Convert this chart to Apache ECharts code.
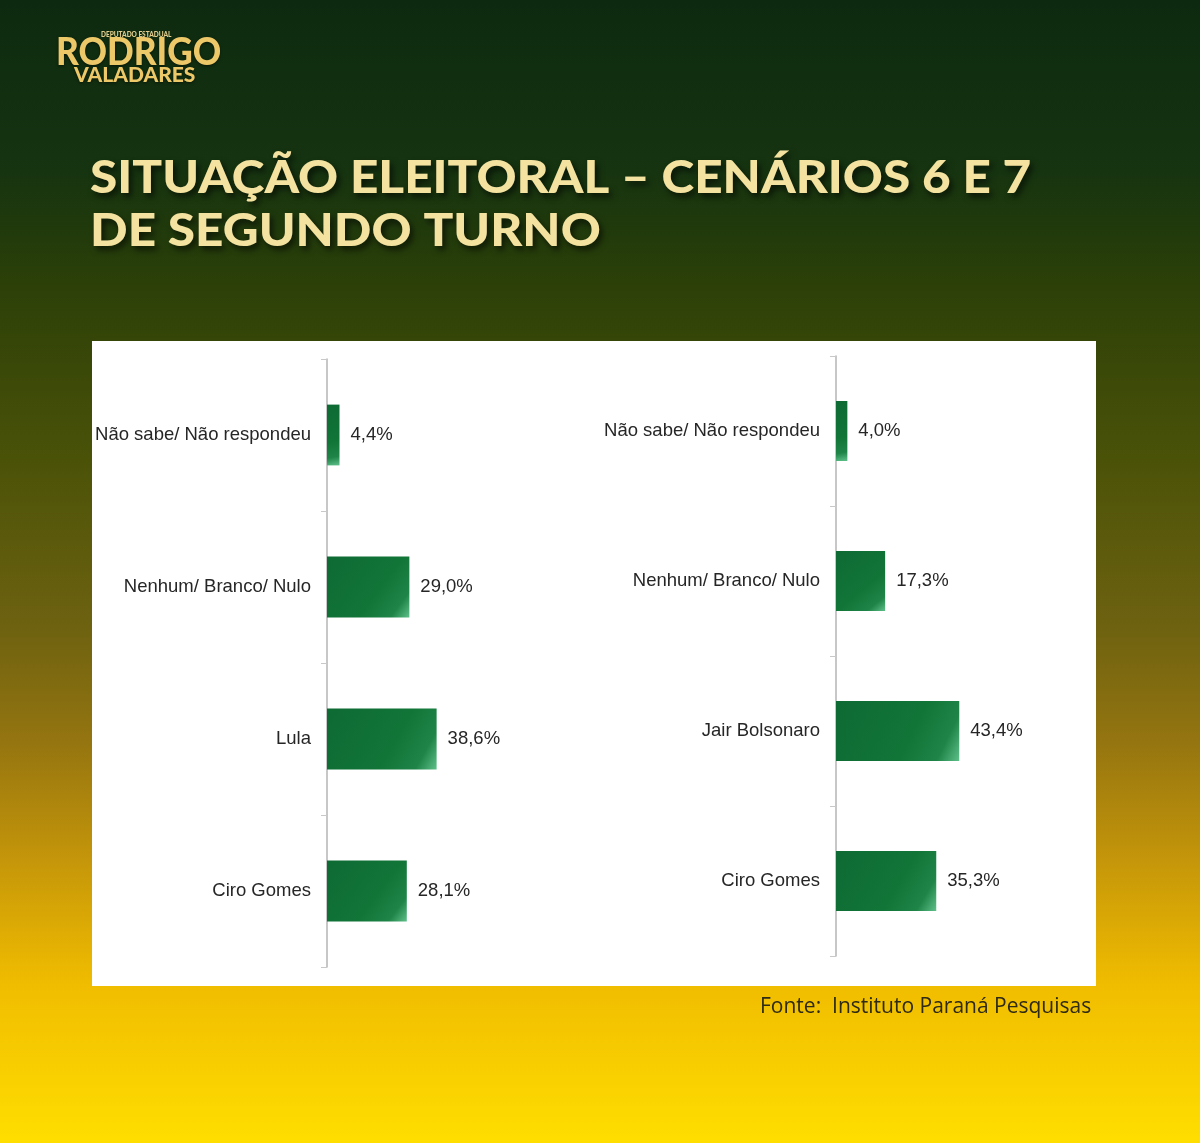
<!DOCTYPE html>
<html><head><meta charset="utf-8">
<script src="https://cdn.jsdelivr.net/npm/echarts@6/dist/echarts.min.js"></script>
<style>html,body{margin:0;padding:0;}#c{width:1200px;height:1143px;}</style>
</head><body><div id="c"></div>
<script>
// ---- data ----
const catsLeft = ['Não sabe/ Não respondeu', 'Nenhum/ Branco/ Nulo', 'Lula', 'Ciro Gomes'];
const valsLeft = [4.4, 29.0, 38.6, 28.1];
const catsRight = ['Não sabe/ Não respondeu', 'Nenhum/ Branco/ Nulo', 'Jair Bolsonaro', 'Ciro Gomes'];
const valsRight = [4.0, 17.3, 43.4, 35.3];
const titleLines = ['SITUAÇÃO ELEITORAL – CENÁRIOS 6 E 7', 'DE SEGUNDO TURNO'];
const sourceText = 'Fonte:  Instituto Paraná Pesquisas';

const chart = echarts.init(document.getElementById('c'));
const G = echarts.graphic;
const barColor = new G.LinearGradient(0, 0, 1, 1, [
  {offset: 0, color: '#0d6a33'},
  {offset: 0.6, color: '#127538'},
  {offset: 0.85, color: '#1e8447'},
  {offset: 1, color: '#5fc08a'}
]);
const fmt = p => p.value.toFixed(1).replace('.', ',') + '%';
const labelFont = {fontFamily: 'Liberation Sans, Arial, sans-serif', fontSize: 18.5, color: '#262626'};

function yAx(idx, cats) {
  return {
    type: 'category', gridIndex: idx, data: cats, inverse: true,
    axisLine: {lineStyle: {color: '#b5b5b5', width: 1.5}},
    axisTick: {show: true, length: 6, lineStyle: {color: '#c8c8c8'}},
    axisLabel: Object.assign({margin: 16}, labelFont)
  };
}
function xAx(idx) {
  return {type: 'value', gridIndex: idx, min: 0, max: 100, show: false};
}
function ser(idx, vals) {
  return {
    type: 'bar', xAxisIndex: idx, yAxisIndex: idx, data: vals, barWidth: '40%',
    itemStyle: {color: barColor},
    label: Object.assign({show: true, position: 'right', distance: 11, formatter: fmt}, labelFont),
    silent: true
  };
}
const gold = '#ecc868';

chart.setOption({
  animation: false,
  backgroundColor: new G.LinearGradient(0, 0, 0, 1, [
    {offset: 0, color: '#0d2a10'},
    {offset: 0.15, color: '#163410'},
    {offset: 0.25, color: '#2c4008'},
    {offset: 0.4, color: '#4a5208'},
    {offset: 0.55, color: '#6e6210'},
    {offset: 0.65, color: '#957510'},
    {offset: 0.75, color: '#c4950a'},
    {offset: 0.86, color: '#f0bc00'},
    {offset: 1, color: '#ffde00'}
  ]),
  grid: [
    {left: 327, top: 359, width: 284, height: 608},
    {left: 836, top: 356, width: 284, height: 600}
  ],
  xAxis: [xAx(0), xAx(1)],
  yAxis: [yAx(0, catsLeft), yAx(1, catsRight)],
  series: [ser(0, valsLeft), ser(1, valsRight)],
  graphic: [
    {type: 'rect', z: -10, shape: {x: 92, y: 341, width: 1004, height: 645}, style: {fill: '#ffffff'}},
    {type: 'text', x: 90, y: 152, scaleX: 1.1, style: {
      text: titleLines.join('\n'), fill: '#f4e2a0', fontFamily: 'Lato, Inter, sans-serif', fontWeight: 900,
      fontSize: 45, lineHeight: 53, textShadowColor: 'rgba(0,0,0,0.6)', textShadowBlur: 6, textShadowOffsetX: 3, textShadowOffsetY: 4}},
    {type: 'text', x: 760, y: 997, style: {
      text: sourceText, fill: '#2e2a14', fontFamily: 'Open Sans, sans-serif', fontSize: 21}},
    {type: 'text', x: 101, y: 31, style: {
      text: 'DEPUTADO ESTADUAL', fill: '#e2cd8e', fontFamily: 'Lato, sans-serif', fontWeight: 900, fontSize: 6.5}},
    {type: 'text', x: 56, y: 35, scaleX: 0.95, style: {
      text: 'RODRIGO', fontFamily: 'Lato, sans-serif', fontWeight: 900, fontSize: 37, fill: gold,
      textShadowColor: 'rgba(0,0,0,0.5)', textShadowBlur: 3, textShadowOffsetY: 1}},
    {type: 'text', x: 74, y: 65, style: {
      text: 'VALADARES', fontFamily: 'Lato, sans-serif', fontWeight: 900, fontSize: 21, fill: gold,
      textShadowColor: 'rgba(0,0,0,0.5)', textShadowBlur: 3, textShadowOffsetY: 1}}
  ]
});
</script></body></html>
